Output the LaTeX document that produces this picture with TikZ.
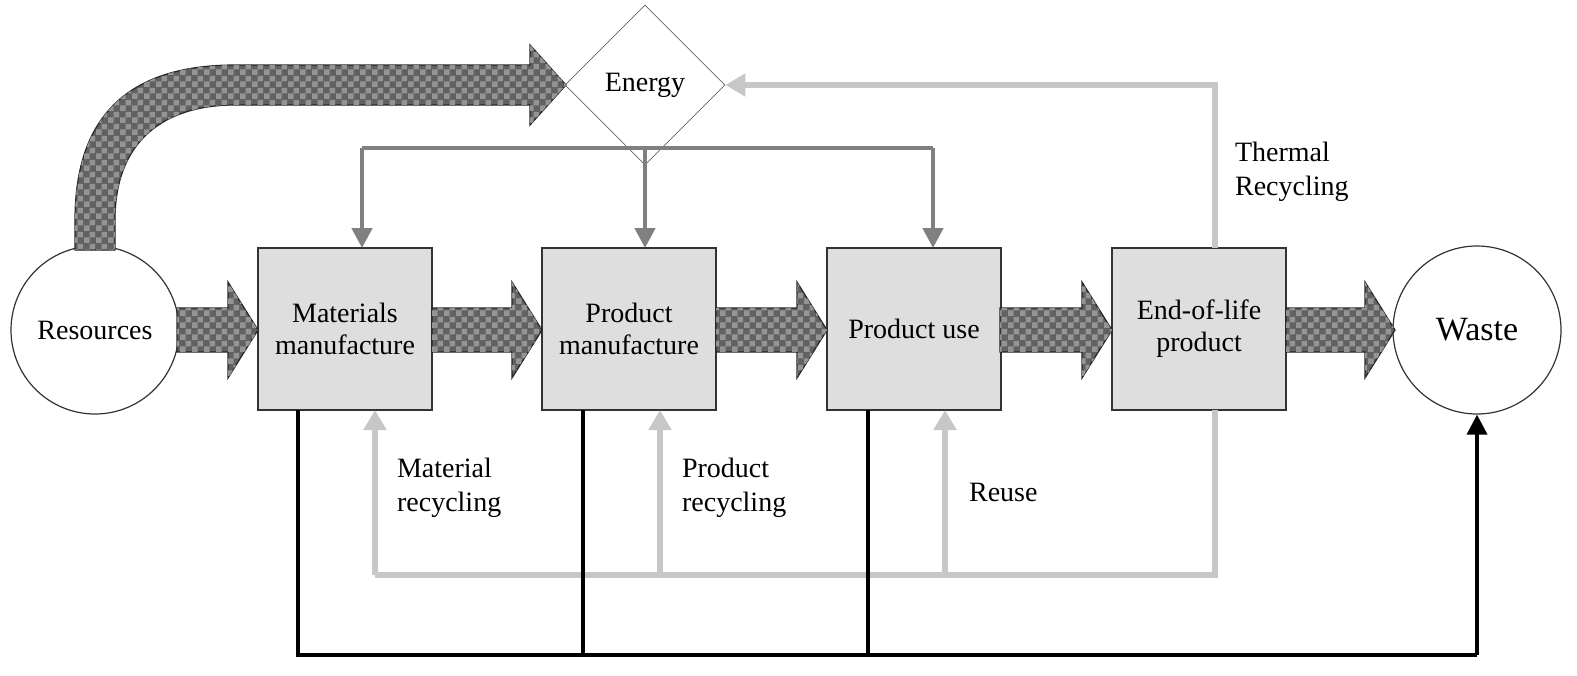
\documentclass[tikz,border=0pt]{standalone}
\usepackage{fontspec}
\setmainfont{Liberation Serif}
\usetikzlibrary{shapes.geometric,patterns,arrows.meta}
\pgfdeclarepatternformonly{mychk}{\pgfpointorigin}{\pgfqpoint{6pt}{6pt}}{\pgfqpoint{6pt}{6pt}}{%
  \pgfpathrectangle{\pgfpointorigin}{\pgfqpoint{3pt}{3pt}}%
  \pgfpathrectangle{\pgfqpoint{3pt}{3pt}}{\pgfqpoint{3pt}{3pt}}%
  \pgfusepath{fill}}
\begin{document}
\begin{tikzpicture}[x=0.5pt,y=-0.5pt,
  box/.style={draw=black!80,fill=black!13,minimum width=87pt,minimum height=81pt,align=center,font=\fontsize{14}{16}\selectfont,line width=0.6pt},
  circ/.style={draw=black!80,circle,minimum size=84pt,inner sep=0pt,line width=0.6pt},
  chk/.style={draw=black!85,line width=0.6pt,fill=black!62,postaction={pattern=mychk,pattern color=black!42}},
  eline/.style={draw=black!50,line width=2.3pt,-{Triangle[length=10pt,width=10pt]}},
  rline/.style={draw=black!22,line width=3pt,-{Triangle[length=10pt,width=11pt]}},
  wline/.style={draw=black,line width=1.8pt},
  lbl/.style={font=\fontsize{14}{17}\selectfont,align=left,anchor=west}]
\useasboundingbox (0,0) rectangle (1577,675);
\node[circ,font=\fontsize{14}{16}\selectfont] (res) at (95,330) {Resources};
\node[circ,font=\fontsize{17}{19}\selectfont] (waste) at (1477,330) {Waste};
\node[box] (mm) at (345,329) {Materials\\manufacture};
\node[box] (pm) at (629,329) {Product\\manufacture};
\node[box] (pu) at (914,329) {Product use};
\node[box] (eol) at (1199,329) {End-of-life\\product};
\node[draw=black!60,diamond,minimum width=80pt,minimum height=80pt,inner sep=0pt,aspect=1,font=\fontsize{14}{16}\selectfont] (en) at (645,85) {Energy};
% checkered block arrows
\foreach \a/\b in {177/258,432/542,716/827,1000/1112,1286/1395}{
  \path[chk] (\a,308)--({\b-30},308)--({\b-30},282)--(\b,330)--({\b-30},378)--({\b-30},352)--(\a,352)--cycle;}
\path[chk] (75,250)--(75,220) .. controls (75,110) and (135,65) .. (235,65) -- (530,65) -- (530,45) -- (566,85) -- (530,125) -- (530,105) -- (235,105) .. controls (165,105) and (115,140) .. (115,220) -- (115,250) -- cycle;
% energy distribution
\coordinate (e1) at (362,148); \coordinate (e3) at (933,148);
\draw[draw=black!50,line width=2.3pt] (e1)--(e3);
\draw[draw=black!50,line width=2.3pt] (en.south)--(645,148);
\draw[eline] (e1)--(362,248);
\draw[eline] (645,148)--(645,248);
\draw[eline] (e3)--(933,248);
% thermal recycling
\coordinate (t1) at (1215,85);
\draw[rline] (1215,248)--(t1)--(en.east);
\node[lbl] (tr) at (1228,172) {Thermal\\Recycling};
% recycling loop
\coordinate (r1) at (1215,575); \coordinate (r2) at (375,575);
\draw[draw=black!22,line width=3pt] (1215,410)--(r1)--(r2);
\draw[rline] (r2)--(375,410);
\draw[rline] (660,575)--(660,410);
\draw[rline] (945,575)--(945,410);
\node[lbl] (l1) at (390,488) {Material\\recycling};
\node[lbl] (l2) at (675,488) {Product\\recycling};
\node[lbl] (l3) at (962,492) {Reuse};
% waste lines
\coordinate (w0) at (298,655); \coordinate (w3) at (1477,655);
\draw[wline] (298,410)--(w0)--(w3);
\draw[wline] (583,410)--(583,655);
\draw[wline] (868,410)--(868,655);
\draw[wline,-{Triangle[length=10pt,width=10pt]}] (w3)--(waste.south);
\end{tikzpicture}
\end{document}
